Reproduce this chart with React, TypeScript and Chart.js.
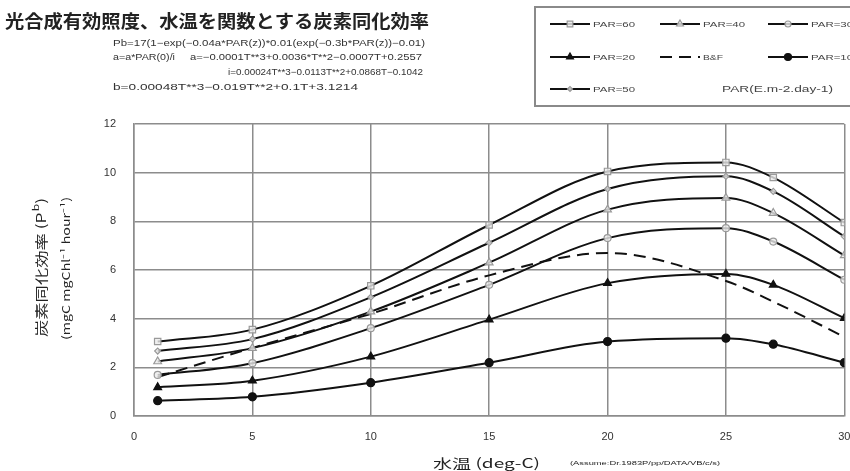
import { useEffect, useRef } from 'react';
import { Chart, registerables } from 'chart.js';
import { drawPoint } from 'chart.js/helpers';

Chart.register(...registerables);

const temps = [1, 5, 10, 15, 20, 25, 27, 30];
const par60 = [3.06, 3.55, 5.35, 7.85, 10.05, 10.42, 9.8, 7.95];
const par50 = [2.67, 3.16, 4.88, 7.12, 9.33, 9.85, 9.23, 7.38];
const par40 = [2.24, 2.79, 4.29, 6.3, 8.48, 8.96, 8.34, 6.6];
const par30 = [1.69, 2.17, 3.61, 5.39, 7.31, 7.72, 7.17, 5.6];
const par20 = [1.18, 1.45, 2.44, 3.96, 5.46, 5.84, 5.39, 4.02];
const par10 = [0.63, 0.79, 1.37, 2.19, 3.06, 3.2, 2.95, 2.19];
const bf = [1.6, 2.8, 4.2, 5.78, 6.7, 5.55, 4.7, 3.25];

const seriesLabels = ['PAR=60', 'PAR=40', 'PAR=30', 'PAR=20', 'B&F', 'PAR=10', 'PAR=50'];
const xTickStep = 5;
const yTickStep = 2;

const titleText = '光合成有効照度、水温を関数とする炭素同化効率';
const formulaLines = [
  'Pb=17(1−exp(−0.04a*PAR(z))*0.01(exp(−0.3b*PAR(z))−0.01)',
  'a=a*PAR(0)/i',
  'a=−0.0001T**3+0.0036*T**2−0.0007T+0.2557',
  'i=0.00024T**3−0.0113T**2+0.0868T−0.1042',
  'b=0.00048T**3−0.019T**2+0.1T+3.1214',
];
const xTitle = '水温 (deg-C)';
const yTitle1 = '炭素同化効率 (P';
const yTitle2 = '(mgC mgChl⁻¹ hour⁻¹)';
const footText = '(Assume:Dr.1983P/pp/DATA/VB/c/s)';
const legendNote = 'PAR(E.m-2.day-1)';

const JP = '"Noto Sans CJK JP", sans-serif';
const NUM = '"Liberation Sans", Arial, sans-serif';

function pts(vals: number[]) {
  return temps.map((t, i) => ({ x: t, y: vals[i] }));
}

function fillScaled(ctx: CanvasRenderingContext2D, text: string, x: number, y: number, targetW: number, font: string) {
  ctx.save();
  ctx.font = font;
  ctx.textAlign = 'left';
  const w = ctx.measureText(text).width;
  ctx.translate(x, y);
  ctx.scale(targetW / w, 1);
  ctx.fillText(text, 0, 0);
  ctx.restore();
}

export default function App() {
  const ref = useRef<HTMLCanvasElement>(null);

  useEffect(() => {
    if (!ref.current) return;
    const gray = '#9a9a9a';
    const line = '#111';
    const mk = (label: string, vals: number[], style: any, radius: number, fill: string, stroke: string, dash: number[] = []) => ({
      label,
      data: pts(vals),
      borderColor: line,
      borderWidth: 2,
      borderDash: dash,
      pointStyle: style,
      pointRadius: radius,
      pointBackgroundColor: fill,
      pointBorderColor: stroke,
      pointBorderWidth: 1.2,
      cubicInterpolationMode: 'monotone' as const,
      fill: false,
    });
    const datasets = [
      mk(seriesLabels[0], par60, 'rect', 4.5, 'rgba(235,235,235,0.8)', gray),
      mk(seriesLabels[1], par40, 'triangle', 4.5, 'rgba(235,235,235,0.8)', gray),
      mk(seriesLabels[2], par30, 'circle', 3.5, 'rgba(235,235,235,0.8)', gray),
      mk(seriesLabels[3], par20, 'triangle', 4.5, '#111', '#111'),
      mk(seriesLabels[4], bf, 'circle', 0, '#111', '#111', [12, 7]),
      mk(seriesLabels[5], par10, 'circle', 4, '#111', '#111'),
      mk(seriesLabels[6], par50, 'rectRot', 3, 'rgba(235,235,235,0.8)', gray),
    ];

    const textPlugin = {
      id: 'texts',
      afterDraw(chart: any) {
        const ctx = chart.ctx as CanvasRenderingContext2D;
        ctx.save();
        ctx.textBaseline = 'middle';
        // title
        ctx.fillStyle = '#222';
        fillScaled(ctx, titleText, 5, 21, 424, `bold 18px ${JP}`);
        // formulas
        ctx.fillStyle = '#333';
        const ff = `9px ${NUM}`;
        fillScaled(ctx, formulaLines[0], 113, 44, 312, ff);
        fillScaled(ctx, formulaLines[1], 113, 58, 62, ff);
        fillScaled(ctx, formulaLines[2], 190, 58, 232, ff);
        fillScaled(ctx, formulaLines[3], 228, 73, 195, ff);
        fillScaled(ctx, formulaLines[4], 113, 88, 245, ff);
        // x title
        ctx.fillStyle = '#222';
        fillScaled(ctx, xTitle, 433, 463, 107, `13px ${JP}`);
        fillScaled(ctx, footText, 570, 463, 150, `6px ${NUM}`);
        // y titles
        ctx.save();
        ctx.translate(41, 337);
        ctx.rotate(-Math.PI / 2);
        ctx.font = `13px ${JP}`;
        const w1 = ctx.measureText(yTitle1).width;
        ctx.font = `9px ${JP}`;
        const wb = ctx.measureText('b').width + 1;
        ctx.font = `13px ${JP}`;
        const wp = ctx.measureText(')').width;
        const total = w1 + wb + wp;
        ctx.scale(139 / total, 1);
        ctx.textAlign = 'left';
        ctx.fillText(yTitle1, 0, 0);
        ctx.font = `9px ${JP}`;
        ctx.fillText('b', w1 + 1, -5);
        ctx.font = `13px ${JP}`;
        ctx.fillText(')', w1 + wb, 0);
        ctx.restore();
        ctx.save();
        ctx.translate(66, 340);
        ctx.rotate(-Math.PI / 2);
        fillScaled(ctx, yTitle2, 0, 0, 143, `11px ${JP}`);
        ctx.restore();

        // legend box
        ctx.strokeStyle = '#8a8a8a';
        ctx.lineWidth = 2;
        ctx.strokeRect(535, 7, 330, 99);
        const cols = [550, 660, 768];
        const rows = [24, 57, 89];
        chart.data.datasets.forEach((ds: any, i: number) => {
          const cx = cols[i % 3];
          const cy = rows[Math.floor(i / 3)];
          ctx.save();
          ctx.strokeStyle = ds.borderColor;
          ctx.lineWidth = 2;
          ctx.setLineDash(ds.borderDash || []);
          ctx.beginPath();
          ctx.moveTo(cx, cy);
          ctx.lineTo(cx + 40, cy);
          ctx.stroke();
          ctx.setLineDash([]);
          if (ds.pointRadius > 0) {
            ctx.fillStyle = ds.pointBackgroundColor;
            ctx.strokeStyle = ds.pointBorderColor;
            ctx.lineWidth = 1.2;
            drawPoint(ctx, { pointStyle: ds.pointStyle, radius: ds.pointRadius - 0.5, rotation: 0, borderWidth: 1.2 } as any, cx + 20, cy);
          }
          ctx.restore();
          ctx.fillStyle = '#444';
          const lw = ds.label === 'B&F' ? 20 : 42;
          fillScaled(ctx, ds.label, cx + 43, cy + 1, lw, `8px ${NUM}`);
        });
        ctx.fillStyle = '#444';
        fillScaled(ctx, legendNote, 722, 90, 111, `8.5px ${NUM}`);
        ctx.restore();
      },
    };

    const chart = new Chart(ref.current, {
      type: 'line',
      data: { datasets },
      options: {
        animation: false,
        responsive: false,
        events: [],
        layout: { padding: { top: 124, right: 3, left: 0, bottom: 0 } },
        plugins: { legend: { display: false }, tooltip: { enabled: false } },
        scales: {
          x: {
            type: 'linear',
            min: 0,
            max: 30,
            afterFit: (a: any) => { a.height = 55; a.paddingRight = 0; a.paddingLeft = 0; },
            ticks: { stepSize: xTickStep, padding: 14, color: '#333', font: { family: NUM, size: 11 } },
            grid: { color: '#8c8c8c', lineWidth: 1.5, drawTicks: false },
            border: { display: true, color: '#8c8c8c', width: 1.5 },
          },
          y: {
            type: 'linear',
            min: 0,
            max: 12,
            afterFit: (a: any) => { a.width = 134; a.paddingTop = 0; a.paddingBottom = 0; },
            ticks: { stepSize: yTickStep, padding: 18, color: '#333', font: { family: NUM, size: 11 } },
            grid: { color: '#8c8c8c', lineWidth: 1.5, drawTicks: false },
            border: { display: true, color: '#8c8c8c', width: 1.5 },
          },
        },
      },
      plugins: [textPlugin],
    });
    return () => chart.destroy();
  }, []);

  return (
    <div style={{ position: 'fixed', left: 0, top: 0, width: 850, height: 471, background: '#fff' }}>
      <canvas ref={ref} width={850} height={471} style={{ width: 850, height: 471 }} />
    </div>
  );
}
